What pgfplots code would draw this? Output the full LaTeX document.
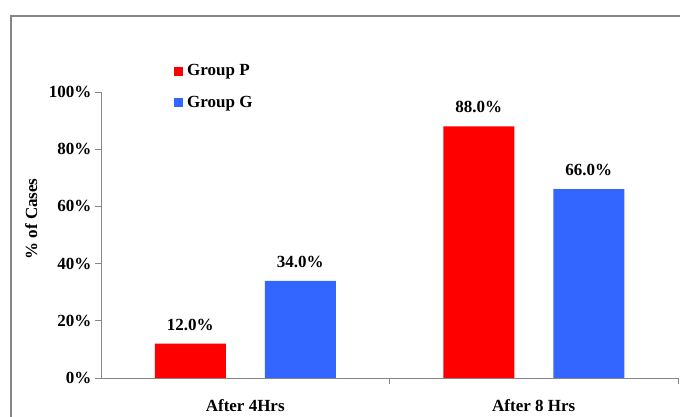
\documentclass[border=0pt]{standalone}
\usepackage{pgfplots}
\pgfplotsset{compat=1.18}
\usepackage{fontspec}
\setmainfont{Liberation Serif}
\definecolor{gp}{RGB}{255,0,0}
\definecolor{gg}{RGB}{51,102,255}
\definecolor{axg}{RGB}{134,134,134}
\newcommand{\cf}{\bfseries\fontsize{17}{20}\selectfont}
\begin{document}
\begin{tikzpicture}[x=1pt,y=1pt]
\useasboundingbox (0,0) rectangle (680,417);
\draw[color=axg, line width=1.1pt] (11,401) rectangle (720,-30);
\begin{axis}[
  at={(101pt,39pt)}, anchor=south west,
  scale only axis, width=577pt, height=286pt,
  xmin=-0.5, xmax=1.5, ymin=0, ymax=100,
  axis x line*=bottom, axis y line*=left,
  axis line style={draw=axg, line width=0.8pt, -},
  /pgf/number format/assume math mode=true,
  ybar=39pt, bar width=71pt,
  tick align=outside,
  major tick length=6pt,
  tick style={draw=axg, line width=0.8pt},
  ytick={0,20,40,60,80,100},
  yticklabels={0\%,20\%,40\%,60\%,80\%,100\%},
  xtick={0.5,1.5}, xticklabels={},
  extra x ticks={0,1},
  extra x tick labels={After 4Hrs,After 8 Hrs},
  extra x tick style={major tick length=0pt, tick style={draw=none}},
  tick label style={font=\cf},
  xticklabel style={yshift=-18pt},
  ylabel={\% of Cases},
  ylabel style={font=\cf, at={(axis description cs:-0.121,0.556)}, anchor=center},
  nodes near coords={\pgfmathprintnumber[fixed,fixed zerofill,precision=1]{\pgfplotspointmeta}\%},
  nodes near coords style={font=\cf, anchor=base, inner sep=0pt, yshift=13.5pt, text=black},
  legend image code/.code={\fill[#1, draw=none] (0pt,-4.5pt) rectangle (9pt,4.5pt);},
  legend style={draw=none, fill=none, font=\cf, at={(axis description cs:0.1265,1.103)}, anchor=north west, inner sep=0pt, row sep=14.5pt, column sep=2pt, nodes={inner sep=2pt}},
  legend cell align=left,
]
\addplot[fill=gp, draw=none] coordinates {(0,12) (1,88)};
\addplot[fill=gg, draw=none] coordinates {(0,34) (1,66)};
\legend{Group P, Group G}
\end{axis}
\end{tikzpicture}
\end{document}
